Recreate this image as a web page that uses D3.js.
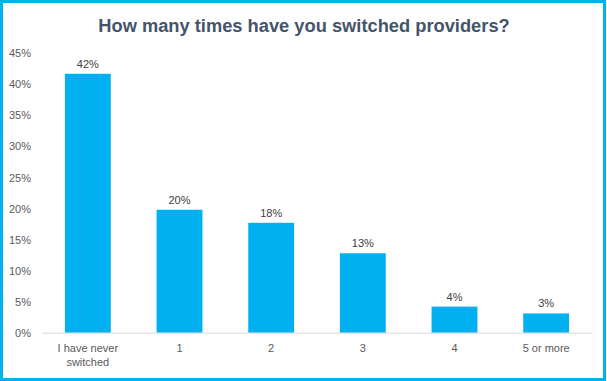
<!DOCTYPE html>
<html><head><meta charset="utf-8">
<script src="https://cdn.jsdelivr.net/npm/d3@7"></script>
<style>
html,body{margin:0;padding:0;background:#fff;}
svg{display:block;}
</style></head>
<body>
<script>
const title = "How many times have you switched providers?";
const categories = [["I have never","switched"],["1"],["2"],["3"],["4"],["5 or more"]];
const values = [41.7, 19.8, 17.7, 12.8, 4.2, 3.1];
const valueLabels = ["42%","20%","18%","13%","4%","3%"];
const yTicks = [0,5,10,15,20,25,30,35,40,45];

const W = 607, H = 381;
const svg = d3.select("body").append("svg").attr("width", W).attr("height", H);
svg.append("rect").attr("width", W).attr("height", H).attr("fill", "#fff");
svg.append("rect").attr("x", 1.5).attr("y", 1.5).attr("width", 603).attr("height", 378)
  .attr("fill", "none").attr("stroke", "#00B0F0").attr("stroke-width", 3);

const font = "'Liberation Sans', Arial, sans-serif";
svg.append("text").attr("x", 304).attr("y", 32).attr("text-anchor", "middle")
  .attr("font-family", font).attr("font-weight", "bold").attr("font-size", 18.3)
  .attr("fill", "#44546A").text(title);

const x = d3.scaleBand().domain(d3.range(categories.length)).range([42, 592]).paddingInner(0.5).paddingOuter(0.25);
const y = d3.scaleLinear().domain([0, 45]).range([332.7, 53.3]);

// y tick labels
const yAxis = svg.append("g").attr("transform", "translate(31,0)")
  .call(d3.axisLeft(y).tickValues(yTicks).tickFormat(d => d + "%").tickSize(0).tickPadding(0));
yAxis.select(".domain").remove();
yAxis.selectAll("text").attr("font-family", font).attr("font-size", 11).attr("fill", "#595959");

// bars
svg.append("g").selectAll("rect").data(values).join("rect")
  .attr("x", (d, i) => x(i)).attr("width", x.bandwidth())
  .attr("y", d => y(d)).attr("height", d => y(0) - y(d))
  .attr("fill", "#00B0F0");

// baseline
const xAxis = svg.append("g").attr("transform", `translate(0,${y(0)})`)
  .call(d3.axisBottom(x).tickSize(0).tickFormat(""));
xAxis.select(".domain").attr("stroke", "#D9D9D9").attr("stroke-width", 1);

// category labels
const catG = svg.append("g");
categories.forEach((lines, i) => {
  const t = catG.append("text").attr("x", x(i) + x.bandwidth() / 2).attr("y", 352)
    .attr("text-anchor", "middle").attr("font-family", font).attr("font-size", 11).attr("fill", "#595959");
  lines.forEach((l, j) => t.append("tspan").attr("x", x(i) + x.bandwidth() / 2).attr("dy", j === 0 ? 0 : 14).text(l));
});

// value labels
svg.append("g").selectAll("text").data(values).join("text")
  .attr("x", (d, i) => x(i) + x.bandwidth() / 2).attr("y", d => y(d) - 6)
  .attr("text-anchor", "middle").attr("font-family", font).attr("font-size", 11).attr("fill", "#404040")
  .text((d, i) => valueLabels[i]);
</script>
</body></html>
